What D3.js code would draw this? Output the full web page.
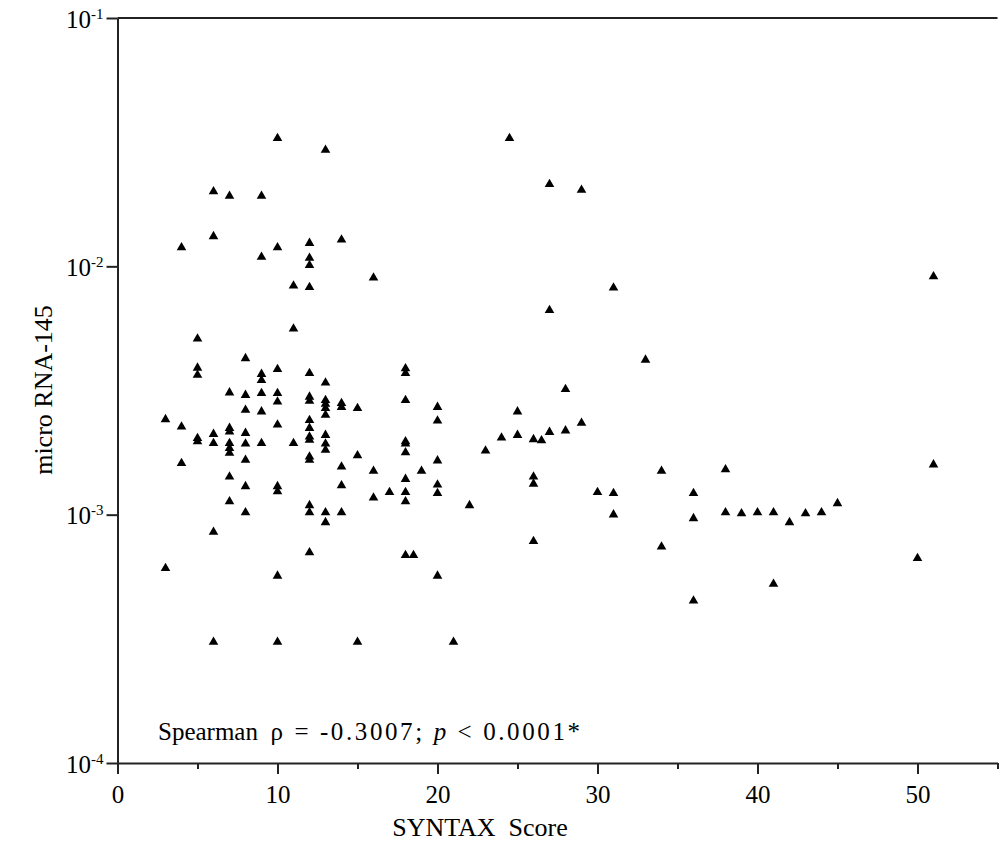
<!DOCTYPE html>
<html>
<head>
<meta charset="utf-8">
<script src="https://cdn.jsdelivr.net/npm/d3@7"></script>
<style>
  body { margin: 0; background: #fff; }
  text { font-family: "Liberation Serif", "Times New Roman", serif; fill: #000; }
</style>
</head>
<body>
<svg id="chart" width="1005" height="841"></svg>
<script>
// SYNTAX score (x) and micro RNA-145 level (y)
const syntaxScore = [
  10, 13, 24.5, 6, 7, 9, 27, 29, 6, 4, 10, 12, 14, 9, 12, 12, 16, 11, 12, 31, 51, 11, 5, 27,
  8, 5, 5, 9, 9, 10, 12, 13, 7, 8, 9, 10, 10, 12, 12, 13, 13, 13, 14, 14, 15, 8, 9, 13,
  3, 4, 10, 12, 12, 7, 7, 6, 6, 5, 5, 8, 13, 12, 12, 7, 8, 9, 11, 13, 7, 7, 13, 12, 12,
  15, 8, 4, 14, 16, 7, 8, 10, 10, 14, 17, 16, 7, 12, 12, 13, 14, 8, 13, 6, 12,
  18, 18, 18, 20, 20, 18, 18, 18, 20, 19, 18, 20, 20, 18, 18, 22, 23, 24, 25, 25, 26, 26.5,
  27, 28, 28, 29, 33, 26, 26, 30, 31, 31, 34, 34, 26, 18, 18.5,
  36, 36, 38, 38, 39, 40, 41, 42, 43, 44, 45, 51, 50, 41, 36,
  3, 10, 20, 6, 10, 15, 21
];
const mir145 = [
  0.0328, 0.0294, 0.0328, 0.0200, 0.0192, 0.0192, 0.0214, 0.0203, 0.0132, 0.0119, 0.0119, 0.0124,
  0.0128, 0.0109, 0.0108, 0.0101, 0.0090, 0.00835, 0.00823, 0.00820, 0.0091, 0.00561, 0.00511, 0.00665,
  0.00426, 0.00390, 0.00365, 0.00368, 0.00348, 0.00385, 0.00371, 0.00340, 0.00310, 0.00303, 0.00308,
  0.00308, 0.00285, 0.00298, 0.00287, 0.00289, 0.00279, 0.00268, 0.00281, 0.00271, 0.00268, 0.00264,
  0.00260, 0.00252,
  0.00242, 0.00226, 0.00230, 0.00240, 0.00223, 0.00223, 0.00216, 0.00211, 0.00194, 0.00203, 0.00197,
  0.00213, 0.00209, 0.00206, 0.00200, 0.00194, 0.00193, 0.00194, 0.00194, 0.00193, 0.00185, 0.00177,
  0.00182, 0.00171, 0.00166,
  0.00173, 0.00166, 0.00161, 0.00156, 0.00150, 0.00142, 0.00130, 0.00130, 0.00124, 0.00131, 0.00123,
  0.00117, 0.00113, 0.00109, 0.00102, 0.00102, 0.00102, 0.00102, 0.000931, 0.000851, 0.000704,
  0.00388, 0.00371, 0.00289, 0.00271, 0.00239, 0.00197, 0.00193, 0.00178, 0.00165, 0.00150, 0.00139,
  0.00132, 0.00122, 0.00123, 0.00113, 0.00109, 0.00181, 0.00204, 0.00260, 0.00209, 0.00201, 0.00199,
  0.00215, 0.00320, 0.00218, 0.00234, 0.00420, 0.00142, 0.00133, 0.00123, 0.00122, 0.00100, 0.00150,
  0.000742, 0.000781, 0.000686, 0.000686,
  0.00122, 0.000966, 0.00152, 0.00102, 0.00101, 0.00102, 0.00102, 0.000931, 0.00101, 0.00102, 0.00111,
  0.00159, 0.000667, 0.000526, 0.000450,
  0.000608, 0.000567, 0.000567, 0.000307, 0.000307, 0.000307, 0.000307
];
const xMajorTicks = [0, 10, 20, 30, 40, 50];
const xMinorTicks = [5, 15, 25, 35, 45, 55];
const yTicks = [1e-1, 1e-2, 1e-3, 1e-4];
const yTickExp = ["-1", "-2", "-3", "-4"];

const svg = d3.select("#chart");
const m = { left: 117.5, right: 997.5, top: 18, bottom: 763 };

const x = d3.scaleLinear().domain([0, 55]).range([m.left, m.right]);
const y = d3.scaleLog().domain([1e-4, 1e-1]).range([m.bottom, m.top]);

const points = syntaxScore.map((s, i) => ({ s, v: mir145[i] }));

// axes
const gx = svg.append("g").attr("transform", `translate(0,${m.bottom})`)
  .call(d3.axisBottom(x).tickValues(xMajorTicks).tickSize(11).tickSizeOuter(0));
gx.selectAll("text").attr("y", 40).attr("dy", null).style("font-size", "25px");

const gxm = svg.append("g").attr("transform", `translate(0,${m.bottom})`)
  .call(d3.axisBottom(x).tickValues(xMinorTicks).tickSize(6).tickSizeOuter(0).tickFormat(""));
gxm.select(".domain").remove();

const gy = svg.append("g").attr("transform", `translate(${m.left},0)`)
  .call(d3.axisLeft(y).tickValues(yTicks).tickSize(11).tickSizeOuter(0).tickFormat(""));

gy.selectAll(".tick").each(function (d, i) {
  const t = d3.select(this).append("text")
    .attr("x", -14).attr("y", 9)
    .attr("text-anchor", "end")
    .style("font-size", "25px");
  t.append("tspan").text("10");
  t.append("tspan").attr("dy", -9).style("font-size", "15px").text(yTickExp[i]);
});

svg.selectAll(".domain, .tick line").attr("stroke", "#222").attr("stroke-width", 2);

// top border
svg.append("line")
  .attr("x1", m.left).attr("x2", m.right)
  .attr("y1", m.top).attr("y2", m.top)
  .attr("stroke", "#222").attr("stroke-width", 2);

// points
svg.append("g").selectAll("path")
  .data(points)
  .join("path")
  .attr("transform", d => `translate(${x(d.s)},${y(d.v)})`)
  .attr("d", d3.symbol(d3.symbolTriangle, 40))
  .attr("fill", "#000");

// labels
svg.append("text")
  .attr("x", 480).attr("y", 836)
  .attr("text-anchor", "middle")
  .attr("xml:space", "preserve")
  .style("font-size", "26px")
  .text("SYNTAX  Score");

svg.append("text")
  .attr("transform", "translate(52,390) rotate(-90)")
  .attr("text-anchor", "middle")
  .style("font-size", "26px")
  .text("micro RNA-145");

const note = svg.append("text")
  .attr("x", 158).attr("y", 740)
  .style("font-size", "25px")
  .attr("xml:space", "preserve");
note.append("tspan").text("Spearman  ");
note.append("tspan").style("letter-spacing", "2.6px").text("\u03c1 = -0.3007; ");
note.append("tspan").style("letter-spacing", "2.6px").style("font-style", "italic").text("p");
note.append("tspan").style("letter-spacing", "2.6px").text(" < 0.0001*");
</script>
</body>
</html>
